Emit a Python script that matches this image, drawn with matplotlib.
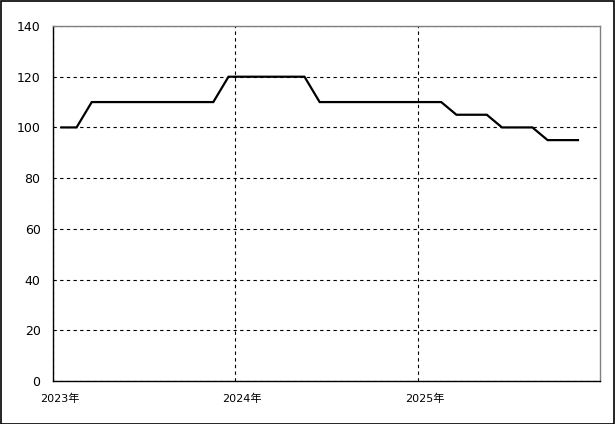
import numpy as np
import matplotlib
matplotlib.use("Agg")
import matplotlib.pyplot as plt
import matplotlib.transforms as mtransforms
from matplotlib.patches import Rectangle

plt.rcParams["font.family"] = ["DejaVu Sans", "Noto Sans CJK JP"]

# Données mensuelles (jan. 2023 -> nov. 2025)
months = [f"{y}-{m:02d}" for y in (2023, 2024, 2025) for m in range(1, 13)][:35]
values = [100, 100, 110, 110, 110, 110, 110, 110, 110, 110, 110, 120,
          120, 120, 120, 120, 120, 110, 110, 110, 110, 110, 110, 110,
          110, 110, 105, 105, 105, 100, 100, 100, 95, 95, 95]
year_labels = ["2023年", "2024年", "2025年"]
y_ticks = [0, 20, 40, 60, 80, 100, 120, 140]

fig = plt.figure(figsize=(6.15, 4.24), dpi=100)
ax = fig.add_axes([53 / 615, 43 / 424, 547 / 615, 355 / 424])

# position vers le milieu du mois
x = np.arange(len(months)) + 0.55
ax.plot(x, values, color="black", linewidth=1.6, solid_joinstyle="miter")

ax.set_xlim(0, 36)
ax.set_ylim(0, 140)
ax.set_yticks(y_ticks)
ax.set_xticks([0, 12, 24])
ax.set_xticklabels(year_labels)

ax.grid(True, color="black", linestyle=(0, (3, 3)), linewidth=0.8)
ax.tick_params(length=0, labelsize=9, colors="black")
ax.tick_params(axis="y", pad=9)
ax.tick_params(axis="x", pad=9)
for lab in ax.get_xticklabels():
    lab.set_fontsize(8)

# décaler les libellés d'années vers la droite
offset = mtransforms.ScaledTranslation(7 / 100, 0, fig.dpi_scale_trans)
for lab in ax.get_xticklabels():
    lab.set_transform(lab.get_transform() + offset)

for side in ("top", "right"):
    ax.spines[side].set_color("#808080")
for side in ("left", "bottom"):
    ax.spines[side].set_color("black")
for sp in ax.spines.values():
    sp.set_linewidth(1.0)

# cadre extérieur
fig.patches.append(Rectangle((0.001, 0.001), 0.997, 0.997, transform=fig.transFigure,
                             fill=False, edgecolor="black", linewidth=1.2))

plt.savefig("out.png", dpi=100)
plt.close()
